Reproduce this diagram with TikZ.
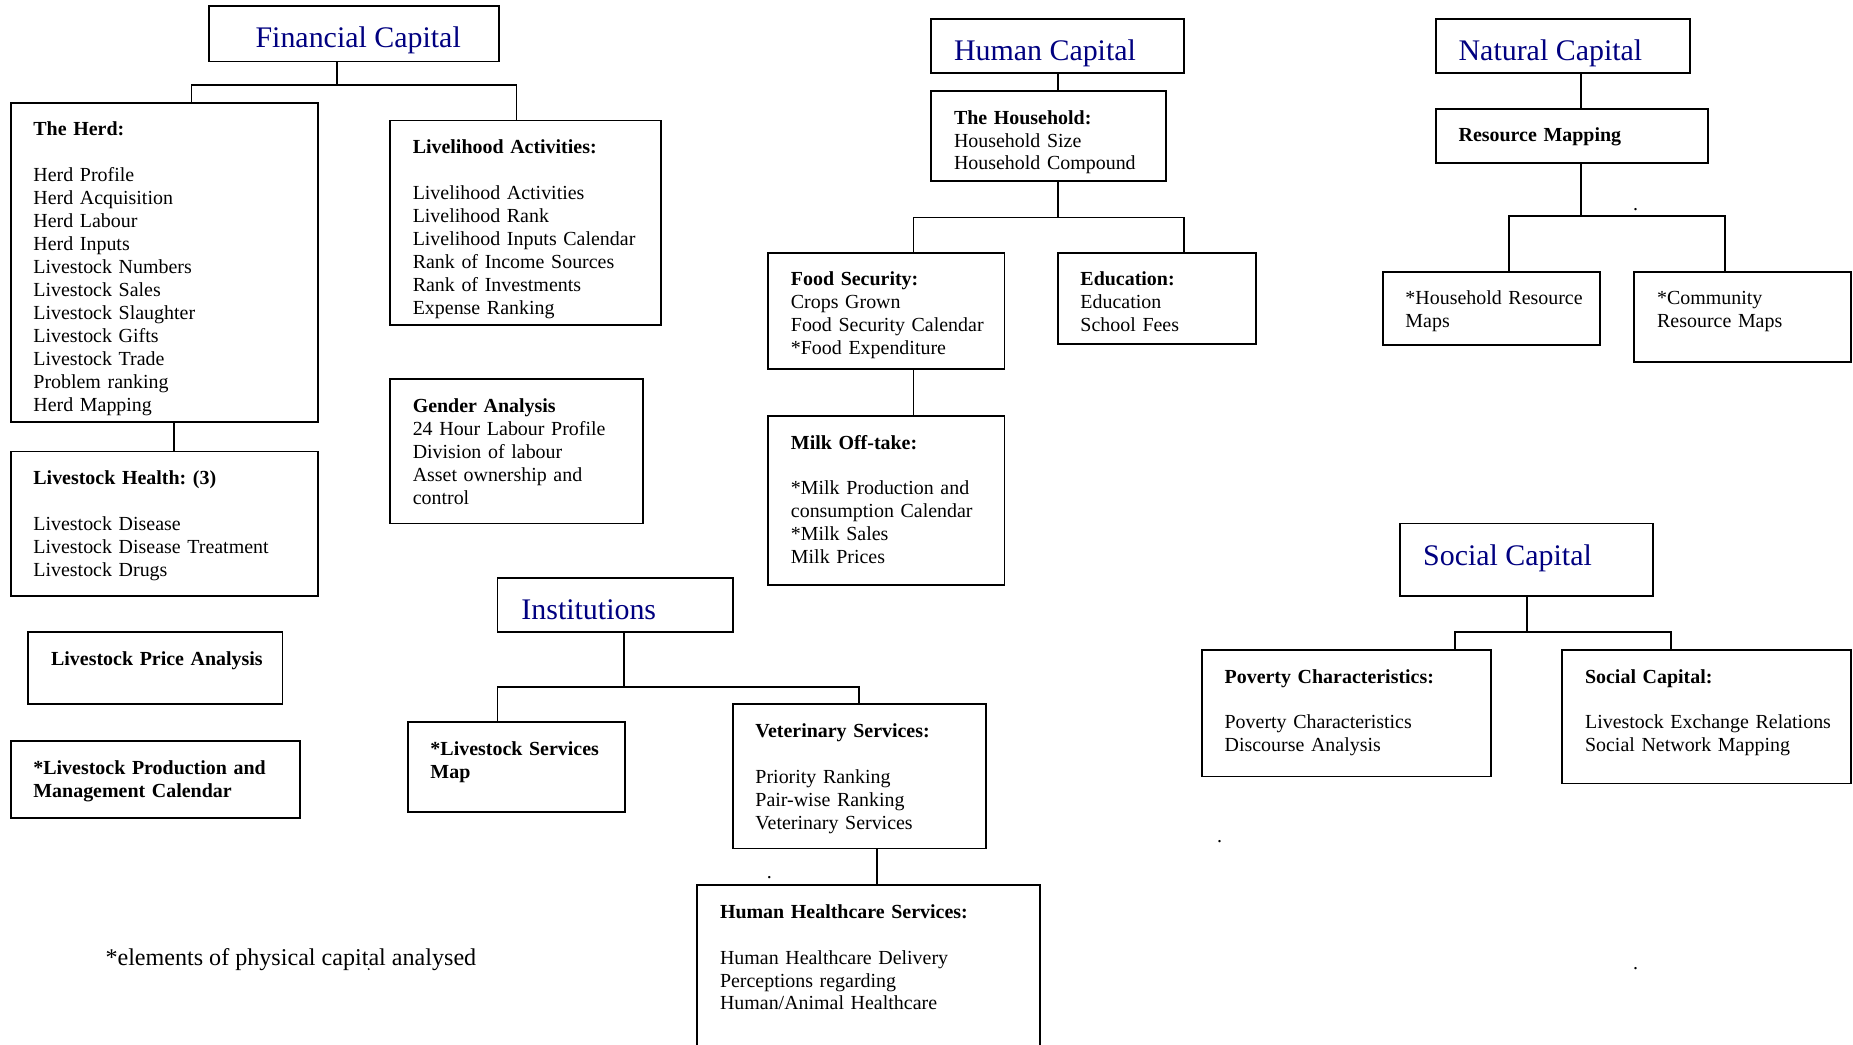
\documentclass[tikz,border=0pt]{standalone}
\usepackage{fontspec}
\setmainfont{Liberation Serif}
\usetikzlibrary{fit, calc}
\definecolor{capblue}{RGB}{0,0,128}
\tikzset{
  infobox/.style={
    draw, rectangle, line width=1.1pt,
    inner sep=0pt, outer sep=0pt
  },
  capbox/.style={infobox},
  boxtext/.style={
    anchor=base west, inner sep=0pt, align=left,
    text width=12cm, font=\fontsize{12}{13.8}\selectfont\frenchspacing
  },
  captext/.style={
    anchor=base west, inner sep=0pt, text=capblue,
    font=\fontsize{18}{21}\selectfont
  },
  % Tree connectors
  link/.style={
    -, line width=1.1pt
  },
  note/.style={
    anchor=base west, inner sep=0pt,
    font=\fontsize{14.5}{17}\selectfont
  },
  stray/.style={
    inner sep=0pt, font=\fontsize{12}{13.8}\selectfont
  },
}
\newcommand{\infobox}[4]{%
  \node[infobox, fit={(#2) (#3)}] (#1) {};
  \node[boxtext] (#1-txt) at ([shift={(19,28)}]#1.north west) {#4};
}
\newcommand{\capbox}[5]{%
  \node[capbox, fit={(#2) (#3)}] (#1) {};
  \node[captext] (#1-txt) at ([shift={(#4,35.5)}]#1.north west) {#5};
}

\begin{document}
\begin{tikzpicture}[x=0.025cm, y=-0.025cm]

  \path[use as bounding box, fill=white] (0,0) rectangle (1568,884);

  %% ── Financial Capital ──
  \capbox{fin}{177,5}{422,52}{39}{Financial Capital}
  \infobox{herd}{9,87}{269,357}{\textbf{The Herd:}\\[\baselineskip]
    Herd Profile\\ Herd Acquisition\\ Herd Labour\\ Herd Inputs\\
    Livestock Numbers\\ Livestock Sales\\ Livestock Slaughter\\
    Livestock Gifts\\ Livestock Trade\\ Problem ranking\\ Herd Mapping}
  \infobox{health}{9,382}{269,504}{\textbf{Livestock Health: (3)}\\[\baselineskip]
    Livestock Disease\\ Livestock Disease Treatment\\ Livestock Drugs}
  \infobox{price}{24,535}{239,596}{\textbf{Livestock Price Analysis}}
  \infobox{prodcal}{9,627}{254,692}{\textbf{*Livestock Production and}\\
    \textbf{Management Calendar}}
  \infobox{livact}{330,102}{559,275}{\textbf{Livelihood Activities:}\\[\baselineskip]
    Livelihood Activities\\ Livelihood Rank\\ Livelihood Inputs Calendar\\
    Rank of Income Sources\\ Rank of Investments\\ Expense Ranking}
  \infobox{gender}{330,321}{544,443}{\textbf{Gender Analysis}\\
    24 Hour Labour Profile\\ Division of labour\\ Asset ownership and\\ control}

  %% ── Institutions ──
  \capbox{inst}{421,489}{620,535}{20}{Institutions}
  \infobox{lsmap}{345,611}{529,687}{\textbf{*Livestock Services}\\ \textbf{Map}}
  \infobox{vet}{620,596}{834,718}{\textbf{Veterinary Services:}\\[\baselineskip]
    Priority Ranking\\ Pair-wise Ranking\\ Veterinary Services}
  \infobox{hhc}{590,749}{880,900}{\textbf{Human Healthcare Services:}\\[\baselineskip]
    Human Healthcare Delivery\\ Perceptions regarding\\ Human/Animal Healthcare}

  %% ── Human Capital ──
  \capbox{human}{788,16}{1002,62}{19}{Human Capital}
  \infobox{hh}{788,77}{987,153}{\textbf{The Household:}\\
    Household Size\\ Household Compound}
  \infobox{food}{650,214}{850,312}{\textbf{Food Security:}\\
    Crops Grown\\ Food Security Calendar\\ {*}Food Expenditure}
  \infobox{edu}{895,214}{1063,291}{\textbf{Education:}\\ Education\\ School Fees}
  \infobox{milk}{650,352}{850,495}{\textbf{Milk Off-take:}\\[\baselineskip]
    {*}Milk Production and\\ consumption Calendar\\ {*}Milk Sales\\ Milk Prices}

  %% ── Natural Capital ──
  \capbox{natural}{1215,16}{1430,62}{19}{Natural Capital}
  \infobox{resmap}{1215,92}{1445,138}{\textbf{Resource Mapping}}
  \infobox{hhmap}{1170,230}{1354,292}{*Household Resource\\ Maps}
  \infobox{commap}{1383,230}{1566,306}{*Community\\ Resource Maps}

  %% ── Social Capital ──
  \capbox{social}{1185,443}{1399,504}{19}{Social Capital}
  \infobox{poverty}{1017,550}{1262,657}{\textbf{Poverty Characteristics:}\\[\baselineskip]
    Poverty Characteristics\\ Discourse Analysis}
  \infobox{socialcap}{1322,550}{1566,663}{\textbf{Social Capital:}\\[\baselineskip]
    Livestock Exchange Relations\\ Social Network Mapping}

  %% ── Junctions ──
  \coordinate (finMid) at (285,72);
  \coordinate (finL) at (162,72);
  \coordinate (finR) at (437,72);
  \coordinate (herdLink) at (147,370);
  \coordinate (instMid) at (528,581);
  \coordinate (instL) at (421,581);
  \coordinate (instR) at (727,581);
  \coordinate (vetLink) at (742,730);
  \coordinate (humanLink) at (895,70);
  \coordinate (hhMid) at (895,184);
  \coordinate (hhL) at (773,184);
  \coordinate (hhR) at (1002,184);
  \coordinate (foodLink) at (773,330);
  \coordinate (natLink) at (1338,75);
  \coordinate (resMid) at (1338,183);
  \coordinate (resL) at (1277,183);
  \coordinate (resR) at (1460,183);
  \coordinate (socMid) at (1292,535);
  \coordinate (socL) at (1231,535);
  \coordinate (socR) at (1414,535);

  %% ── Connectors ──
  \draw[link] (fin.south -| finMid) -- (finMid);
  \draw[link] (herd.north -| finL) -- (finL) -- (finR) -- (livact.north -| finR);
  \draw[link] (herd.south -| herdLink) -- (health.north -| herdLink);

  \draw[link] (inst.south -| instMid) -- (instMid);
  \draw[link] (lsmap.north -| instL) -- (instL) -- (instR) -- (vet.north -| instR);
  \draw[link] (vet.south -| vetLink) -- (hhc.north -| vetLink);

  \draw[link] (human.south -| humanLink) -- (hh.north -| humanLink);
  \draw[link] (hh.south -| hhMid) -- (hhMid);
  \draw[link] (food.north -| hhL) -- (hhL) -- (hhR) -- (edu.north -| hhR);
  \draw[link] (food.south -| foodLink) -- (milk.north -| foodLink);

  \draw[link] (natural.south -| natLink) -- (resmap.north -| natLink);
  \draw[link] (resmap.south -| resMid) -- (resMid);
  \draw[link] (hhmap.north -| resL) -- (resL) -- (resR) -- (commap.north -| resR);

  \draw[link] (social.south -| socMid) -- (socMid);
  \draw[link] (poverty.north -| socL) -- (socL) -- (socR) -- (socialcap.north -| socR);

  %% ── Footnote and stray marks ──
  \node[note] (foot) at (89,817) {*elements of physical capital analysed};
  \node[stray] (dotA) at (1384,177) {.};
  \node[stray] (dotB) at (651,743) {.};
  \node[stray] (dotC) at (1032,712) {.};
  \node[stray] (dotD) at (1384,820) {.};
  \fill (312,820) circle (0.9);

\end{tikzpicture}
\end{document}
